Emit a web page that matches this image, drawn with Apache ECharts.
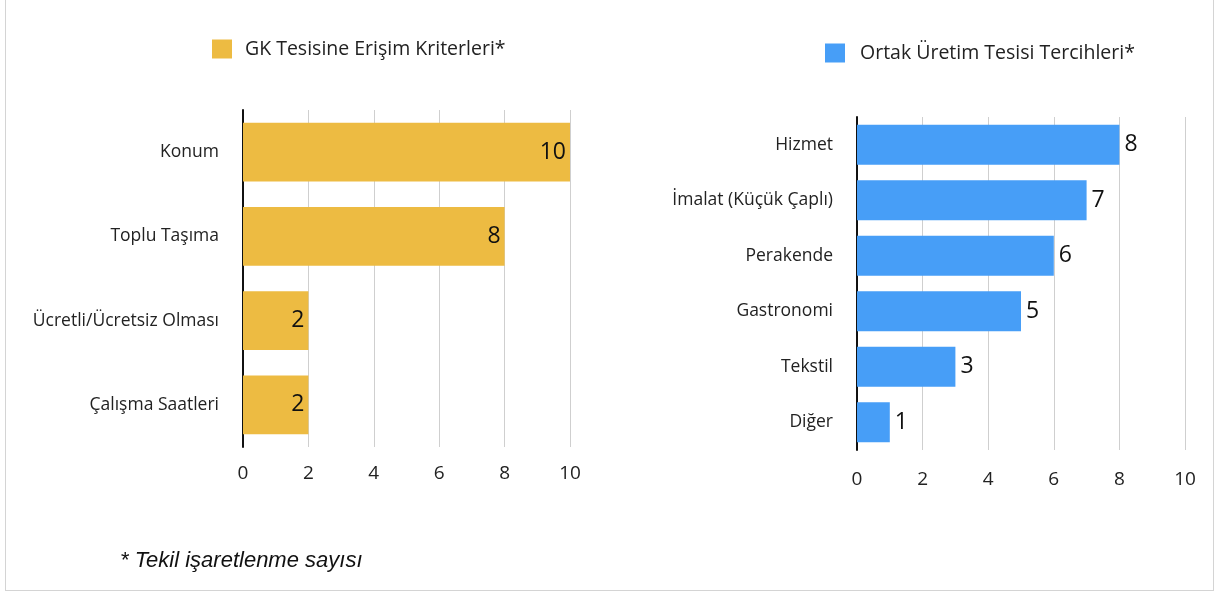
<!DOCTYPE html>
<html>
<head>
<meta charset="utf-8">
<script src="https://cdn.jsdelivr.net/npm/echarts@6/dist/echarts.min.js"></script>
<style>
  html, body { margin: 0; padding: 0; background: #fff; }
  #frame {
    position: absolute; left: 5px; top: -2px; width: 1209px; height: 593px;
    border: 1px solid #d4d4d4; box-sizing: border-box;
  }
  #chart { position: absolute; left: 0; top: 0; width: 1217px; height: 592px; }
</style>
</head>
<body>
<div id="frame"></div>
<div id="chart"></div>
<script>
// left chart
const leftName = "GK Tesisine Erişim Kriterleri*"
const leftCats = ["Konum", "Toplu Taşıma", "Ücretli/Ücretsiz Olması", "Çalışma Saatleri"]
const leftVals = [10, 8, 2, 2]
// right chart
const rightName = "Ortak Üretim Tesisi Tercihleri*"
const rightCats = ["Hizmet", "İmalat (Küçük Çaplı)", "Perakende", "Gastronomi", "Tekstil", "Diğer"]
const rightVals = [8, 7, 6, 5, 3, 1]
const xTicks = [0, 2, 4, 6, 8, 10]
const footnote = "* Tekil işaretlenme sayısı"

const font = "'Open Sans', 'Noto Sans', sans-serif"

const myChart = echarts.init(document.getElementById("chart"))

function valueAxis(gridIndex, margin) {
  return {
    type: "value",
    gridIndex: gridIndex,
    min: xTicks[0],
    max: xTicks[xTicks.length - 1],
    interval: 2,
    axisLine: { show: false },
    axisTick: { show: false },
    splitLine: { show: true, lineStyle: { color: "#cfcfcf", width: 1 } },
    axisLabel: { color: "#222", fontSize: 19, fontFamily: font, margin: margin },
  }
}

function catAxis(gridIndex, cats) {
  return {
    type: "category",
    gridIndex: gridIndex,
    inverse: true,
    data: cats,
    axisLine: { show: true, lineStyle: { color: "#111", width: 2 } },
    axisTick: { show: false },
    axisLabel: { color: "#222", fontSize: 17.5, fontFamily: font, margin: 24 },
  }
}

const option = {
  animation: false,
  legend: [
    {
      data: [leftName],
      left: 207,
      top: 34,
      itemWidth: 20,
      itemHeight: 19,
      icon: "rect",
      textStyle: { color: "#222", fontSize: 19.5, fontFamily: font, padding: [0, 0, 0, 8] },
    },
    {
      data: [rightName],
      left: 820,
      top: 38,
      itemWidth: 20,
      itemHeight: 19,
      icon: "rect",
      textStyle: { color: "#222", fontSize: 19.5, fontFamily: font, padding: [0, 0, 0, 10] },
    },
  ],
  grid: [
    { left: 243, width: 327, top: 110, height: 337 },
    { left: 857, width: 328, top: 117, height: 333 },
  ],
  xAxis: [valueAxis(0, 17), valueAxis(1, 20)],
  yAxis: [catAxis(0, leftCats), catAxis(1, rightCats)],
  series: [
    {
      name: leftName,
      type: "bar",
      xAxisIndex: 0,
      yAxisIndex: 0,
      data: leftVals,
      barWidth: "70%",
      itemStyle: { color: "#EDBB42" },
      label: {
        show: true,
        position: "insideRight",
        distance: 4,
        color: "#111",
        fontSize: 23,
        fontFamily: font,
      },
      z: 3,
    },
    {
      name: rightName,
      type: "bar",
      xAxisIndex: 1,
      yAxisIndex: 1,
      data: rightVals,
      barWidth: "72%",
      itemStyle: { color: "#479EF7" },
      label: {
        show: true,
        position: "right",
        distance: 5,
        color: "#111",
        fontSize: 23,
        fontFamily: font,
      },
      z: 3,
    },
  ],
  graphic: [
    {
      type: "text",
      left: 120,
      top: 550,
      style: {
        text: footnote,
        fill: "#111",
        font: "italic 22px 'Liberation Sans', Arial, sans-serif",
      },
    },
  ],
}

myChart.setOption(option)
</script>
</body>
</html>
